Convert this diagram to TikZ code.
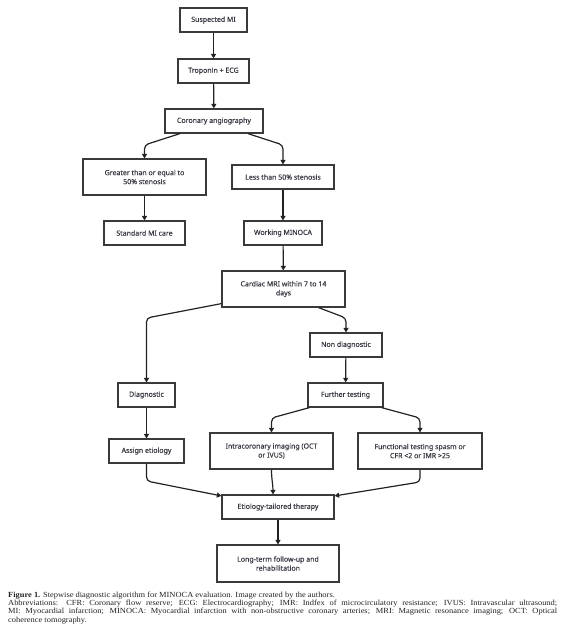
\documentclass[tikz,border=0pt]{standalone}
\usepackage{fontspec}
\setmainfont{Liberation Serif}
\newfontfamily\capfont[FakeStretch=1.08]{Liberation Serif}
\newfontfamily\boxfont[FakeBold=0.4]{Noto Sans}
\usetikzlibrary{arrows.meta}
\definecolor{boxline}{HTML}{3A3A3A}
\definecolor{boxtext}{HTML}{3A3A44}
\definecolor{arrowc}{HTML}{222222}
\definecolor{captext}{HTML}{222222}
\tikzset{
  stepbox/.style={draw=boxline, line width=1.2pt, fill=white, text=boxtext,
    font=\boxfont\fontsize{7}{9}\selectfont, align=center, inner sep=0pt,
    minimum height=24pt},
  conn/.style={draw=arrowc, line width=1.2pt, rounded corners=4pt,
    -{Triangle[width=5pt,length=4.5pt]}},
}
\begin{document}
\begin{tikzpicture}[x=1pt,y=-1pt]
\useasboundingbox (0,0) rectangle (571,643);
\node[stepbox, minimum width=67pt] (sus) at (213.5,20) {Suspected MI};
\node[stepbox, minimum width=71pt] (trop) at (213.5,71) {Troponin + ECG};
\node[stepbox, minimum width=98pt] (cor) at (214,121) {Coronary angiography};
\node[stepbox, minimum width=123pt, minimum height=36pt] (ge) at (144.5,177) {Greater than or equal to\\50\% stenosis};
\node[stepbox, minimum width=102pt] (lt) at (283,177) {Less than 50\% stenosis};
\node[stepbox, minimum width=81pt] (std) at (144.5,233) {Standard MI care};
\node[stepbox, minimum width=78pt] (work) at (283,233) {Working MINOCA};
\node[stepbox, minimum width=123pt, minimum height=36pt] (mri) at (283.5,289) {Cardiac MRI within 7 to 14\\days};
\node[stepbox, minimum width=72pt] (nond) at (346,345) {Non diagnostic};
\node[stepbox, minimum width=57pt] (diag) at (146.5,395) {Diagnostic};
\node[stepbox, minimum width=75pt] (fur) at (345.5,395) {Further testing};
\node[stepbox, minimum width=75pt] (asg) at (146.5,451) {Assign etiology};
\node[stepbox, minimum width=123pt, minimum height=36pt] (intra) at (271.5,451) {Intracoronary imaging (OCT\\or IVUS)};
\node[stepbox, minimum width=124pt, minimum height=36pt] (func) at (420,451) {Functional testing spasm or\\CFR <2 or IMR >25};
\node[stepbox, minimum width=112pt] (etio) at (278,507) {Etiology-tailored therapy};
\node[stepbox, minimum width=122pt, minimum height=37pt] (long) at (278,563.5) {Long-term follow-up and\\rehabilitation};

\draw[conn] (sus) -- (trop);
\draw[conn] (trop) -- (cor);
\draw[conn] ([xshift=-34pt]cor.south) -- (ge.north |- 0,145) -- (ge.north);
\draw[conn] ([xshift=34pt]cor.south) -- (lt.north |- 0,145) -- (lt.north);
\draw[conn] (ge) -- (std);
\draw[conn] (lt) -- (work);
\draw[conn] (work) -- (mri);
\draw[conn] ([yshift=4pt]mri.south west) -- (diag.north |- 0,318) -- (diag.north);
\draw[conn] ([xshift=35pt]mri.south) -- (nond.north |- 0,318) -- (nond.north);
\draw[conn] (nond) -- (fur);
\draw[conn] (diag) -- (asg);
\draw[conn] ([xshift=-36pt]fur.south) -- (intra.north |- 0,418) -- (intra.north);
\draw[conn] ([xshift=36pt]fur.south) -- (func.north |- 0,418) -- (func.north);
\draw[conn] (asg.south) -- (asg.south |- 0,481) -- ([yshift=-1.5pt]etio.north west);
\draw[conn] (func.south) -- (func.south |- 0,482) -- ([yshift=-1.5pt]etio.north east);
\draw[conn, rounded corners=0pt] (intra.south) to[out=-90,in=90] ([xshift=-5pt]etio.north);
\draw[conn] (etio) -- (long);

\node[anchor=north west, inner sep=0pt, text width=549pt, align=justify, text=captext,
  font=\capfont\fontsize{7.8}{8.3}\selectfont] (cap) at (8,591.5)
  {\textbf{Figure 1.} Stepwise diagnostic algorithm for MINOCA evaluation. Image created by the authors.\par
   Abbreviations: CFR: Coronary flow reserve; ECG: Electrocardiography; IMR: Indfex of microcirculatory resistance; IVUS: Intravascular ultrasound;\linebreak
   MI: Myocardial infarction; MINOCA: Myocardial infarction with non-obstructive coronary arteries; MRI: Magnetic resonance imaging; OCT: Optical\linebreak
   coherence tomography.};
\end{tikzpicture}
\end{document}
